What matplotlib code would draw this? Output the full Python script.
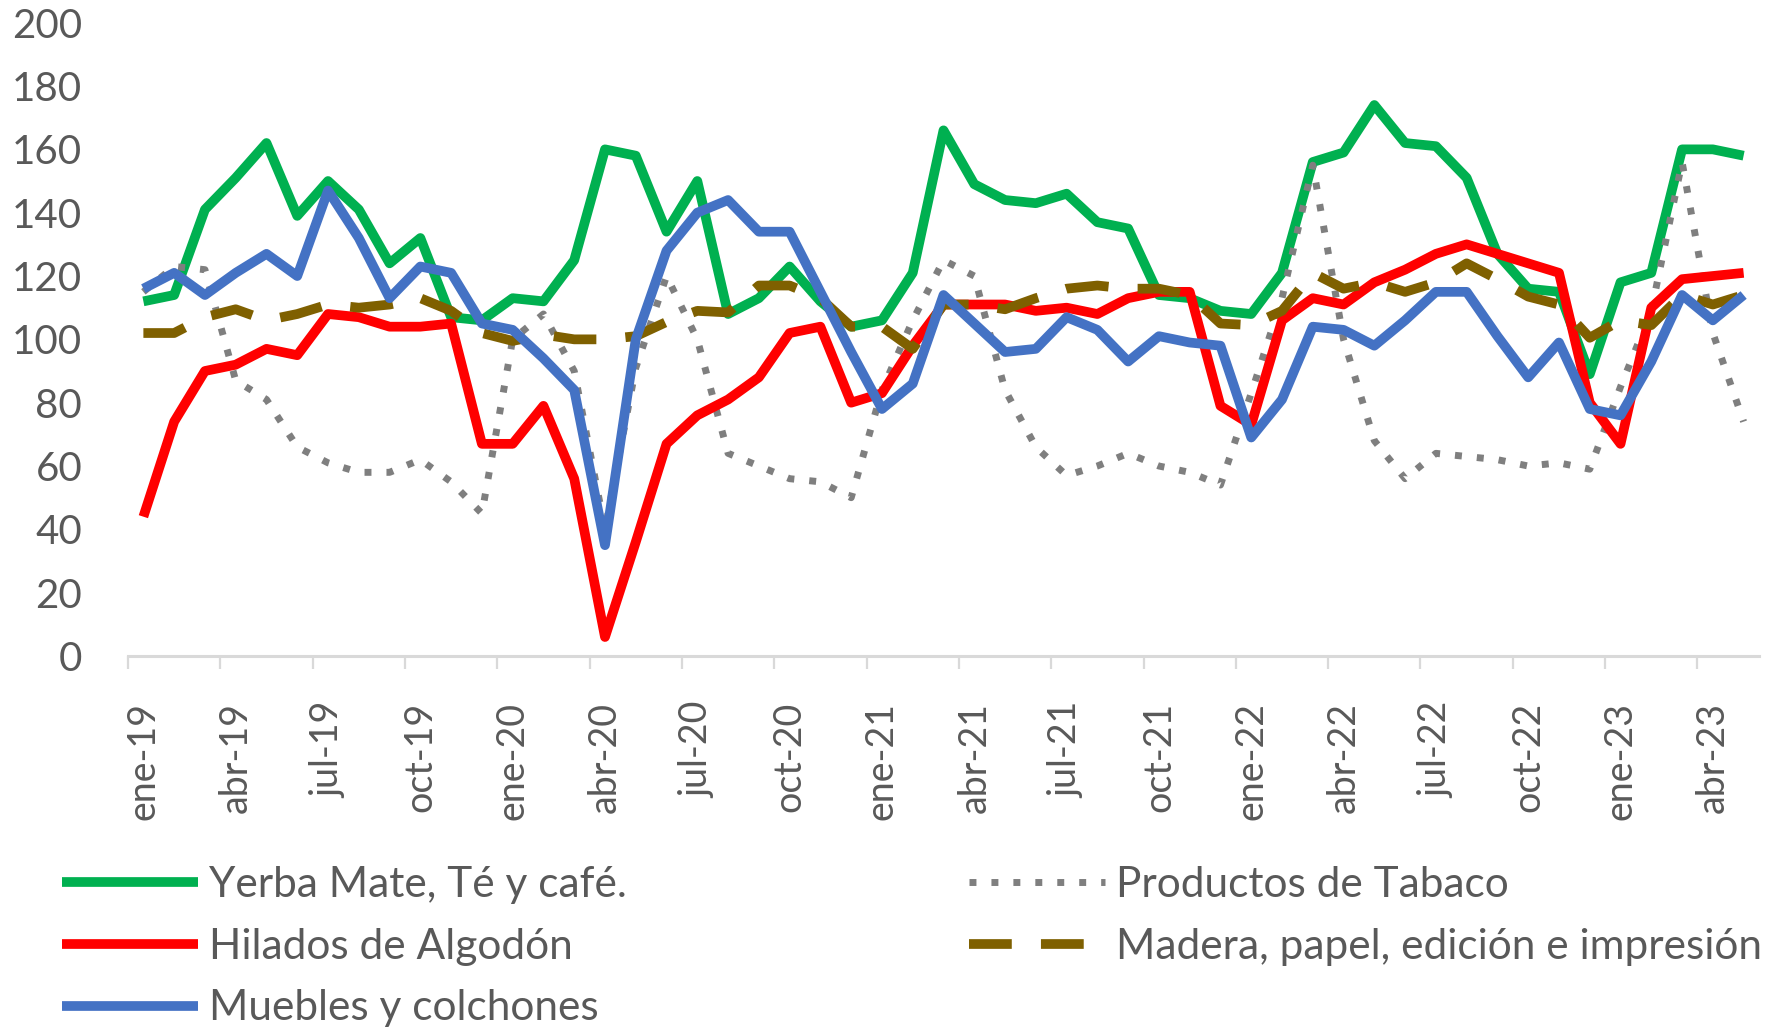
import matplotlib
matplotlib.use("Agg")
import matplotlib.pyplot as plt
import numpy as np

# ---------------- data ----------------
month_abbr = ["ene", "feb", "mar", "abr", "may", "jun",
              "jul", "ago", "sep", "oct", "nov", "dic"]
years = ["19", "20", "21", "22", "23"]
categories = [f"{m}-{y}" for y in years for m in month_abbr][:53]   # ene-19 .. may-23

yerba = [112, 114, 141, 151, 162, 139, 150, 141, 124, 132, 107, 106, 113, 112, 125,
         160, 158, 134, 150, 108, 113, 123, 112, 104, 106, 121, 166, 149, 144, 143,
         146, 137, 135, 114, 113, 109, 108, 121, 156, 159, 174, 162, 161, 151, 127,
         116, 115, 89, 118, 121, 160, 160, 158]

tabaco = [115, 123, 122, 87, 81, 66, 61, 58, 58, 62, 55, 45, 100, 108, 90,
          40, 91, 120, 100, 64, 60, 56, 55, 50, 84, 106, 125, 120, 84, 66,
          57, 60, 64, 60, 58, 54, 83, 113, 155, 100, 68, 56, 64, 63, 62,
          60, 61, 59, 85, 109, 156, 102, 74]

hilados = [44, 74, 90, 92, 97, 95, 108, 107, 104, 104, 105, 67, 67, 79, 56,
           6, 36, 67, 76, 81, 88, 102, 104, 80, 83, 98, 111, 111, 111, 109,
           110, 108, 113, 115, 115, 79, 73, 106, 113, 111, 118, 122, 127, 130, 127,
           124, 121, 80, 67, 110, 119, 120, 121]

madera = [102, 102, 107, 109.5, 106, 108, 111, 110, 111, 113, 109, 102, 99.5, 101.5, 100,
          100, 101, 105.5, 109, 108.5, 117, 117, 113, 104, 104, 97, 111, 111, 109.5, 113,
          116, 117, 116, 116, 114, 105, 104.5, 109, 121, 116, 118, 115, 118, 124, 119,
          113.5, 111, 100.5, 106, 104.5, 114, 111, 114]

muebles = [116, 121, 114, 121, 127, 120, 147, 132, 113, 123, 121, 105, 103, 94, 84,
           35, 100, 128, 140, 144, 134, 134, 115, 96, 78, 86, 114, 105, 96, 97,
           107, 103, 93, 101, 99, 98, 69, 81, 104, 103, 98, 106, 115, 115, 101,
           88, 99, 78, 76, 93, 114, 106, 114]

series_names = ["Yerba Mate, Té y café.", "Productos de Tabaco", "Hilados de Algodón",
                "Madera, papel, edición e impresión", "Muebles y colchones"]
y_ticks = [0, 20, 40, 60, 80, 100, 120, 140, 160, 180, 200]

# ---------------- style ----------------
plt.rcParams['font.family'] = ['Lato', 'DejaVu Sans']
TXT = "#595959"
AXC = "#D9D9D9"

W, H = 1777, 1027
fig = plt.figure(figsize=(W / 100, H / 100), dpi=100)
left, right, top, bottom = 128, 1759, 22.7, 656
ax = fig.add_axes([left / W, 1 - bottom / H, (right - left) / W, (bottom - top) / H])

x = np.arange(len(categories))
lw = 7
l_yerba, = ax.plot(x, yerba, color="#00B050", lw=lw, solid_joinstyle="round",
                   solid_capstyle="butt", label=series_names[0])
l_tab, = ax.plot(x, tabaco, color="#7F7F7F", lw=5, dashes=(1, 2.16),
                 dash_capstyle="butt", label=series_names[1])
l_hil, = ax.plot(x, hilados, color="#FF0000", lw=lw, solid_joinstyle="round",
                 solid_capstyle="butt", label=series_names[2])
l_mad, = ax.plot(x, madera, color="#7F6000", lw=lw, dashes=(4.4, 3.0),
                 dash_capstyle="butt", dash_joinstyle="round", label=series_names[3])
l_mue, = ax.plot(x, muebles, color="#4472C4", lw=lw, solid_joinstyle="round",
                 solid_capstyle="butt", label=series_names[4])

ax.set_xlim(-0.5, len(categories) - 0.5)
ax.set_ylim(0, 200)
ax.set_yticks(y_ticks)
ax.set_yticklabels([str(v) for v in y_ticks])

ax.set_xticks(x[::3])
ax.set_xticklabels(categories[::3], rotation=90, ha="center", va="top")
ax.set_xticks(np.arange(-0.5, len(categories) - 1, 3), minor=True)

for s in ["top", "right", "left"]:
    ax.spines[s].set_visible(False)
ax.spines["bottom"].set_color(AXC)
ax.spines["bottom"].set_linewidth(2.2)

ax.tick_params(axis="y", length=0, pad=33, labelsize=29, labelcolor=TXT)
ax.tick_params(axis="x", which="major", length=0, pad=33, labelsize=27, labelcolor=TXT)
ax.tick_params(axis="x", which="minor", length=9.4, width=1.6, color=AXC)

# ---------------- legends ----------------
FSL = 30.5
common = dict(loc="upper left", frameon=False, fontsize=FSL, handlelength=3.2,
              handletextpad=0.26, labelspacing=0.56, borderpad=0, borderaxespad=0,
              labelcolor=TXT)
leg1 = fig.legend(handles=[l_yerba, l_hil, l_mue],
                  labels=[series_names[0], series_names[2], series_names[4]],
                  bbox_to_anchor=(62 / W, 1 - 866 / H), **common)
leg2 = fig.legend(handles=[l_tab, l_mad],
                  labels=[series_names[1], series_names[3]],
                  bbox_to_anchor=(969 / W, 1 - 866 / H), **common)

fig.savefig("out.png", dpi=100)
